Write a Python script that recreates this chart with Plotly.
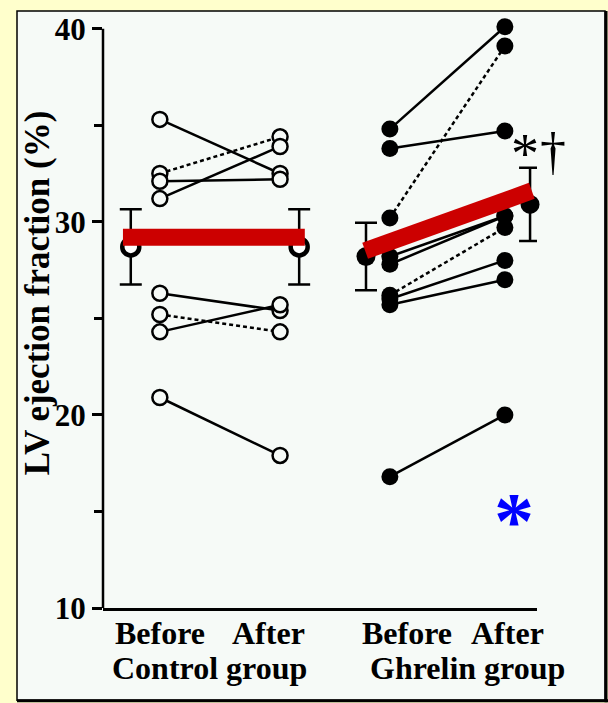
import plotly.graph_objects as go

# ---------------- data ----------------
groups = ["Control group", "Ghrelin group"]
phase_labels = ["Before", "After"]

control_before = [35.3, 32.5, 32.1, 31.2, 26.3, 25.2, 24.3, 20.9]
control_after = [32.5, 34.4, 32.2, 33.9, 25.4, 24.3, 25.7, 17.9]
control_dashed = [False, True, False, False, False, True, False, False]

ghrelin_before = [34.8, 33.8, 30.2, 28.2, 27.8, 26.2, 26.0, 25.7, 16.8]
ghrelin_after = [40.1, 34.7, 39.1, 30.3, 30.3, 29.7, 28.0, 27.0, 20.0]
ghrelin_dashed = [False, False, True, False, False, True, False, False, False]

control_mean = [28.7, 28.7]
control_sd = [1.95, 1.95]
ghrelin_mean = [28.2, 30.9]
ghrelin_sd = [1.75, 1.9]

control_trend = [29.2, 29.2]
ghrelin_trend = [28.5, 31.6]

y_ticks = [10, 20, 30, 40]
y_min, y_max, y_top = 10, 40, 40.5

# ---------------- layout constants ----------------
W, H = 608, 703
L, R, T, B = 103, 71, 15, 95
PW, PH = W - L - R, H - T - B

# x positions (axis runs 0..100)
X_CB, X_CA = 13.1, 40.8
X_GB, X_GA = 66.1, 92.6
X_CMB, X_CMA = 6.4, 45.2
X_GMB, X_GMA = 60.6, 98.4
X_CTR = [4.6, 46.5]
X_GTR = [60.4, 98.8]

PANEL = "#F6FAF7"
YELLOW = "#FFFFCC"
FONT = "Liberation Serif"


def px(xp):
    return (xp - L) / PW


def py(yp):
    return (H - B - yp) / PH


def segments(xb, xa, before, after, dashed, want_dashed):
    xs, ys = [], []
    for b, a, d in zip(before, after, dashed):
        if d == want_dashed:
            xs += [xb, xa, None]
            ys += [b, a, None]
    return xs, ys


fig = go.Figure()

# connecting lines
for (xb, xa, bef, aft, dsh) in [
    (X_CB, X_CA, control_before, control_after, control_dashed),
    (X_GB, X_GA, ghrelin_before, ghrelin_after, ghrelin_dashed),
]:
    xs, ys = segments(xb, xa, bef, aft, dsh, False)
    fig.add_trace(go.Scatter(x=xs, y=ys, mode="lines",
                             line=dict(color="black", width=2.5),
                             hoverinfo="skip", showlegend=False))
    xs, ys = segments(xb, xa, bef, aft, dsh, True)
    fig.add_trace(go.Scatter(x=xs, y=ys, mode="lines",
                             line=dict(color="black", width=2.5, dash="4px,3px"),
                             hoverinfo="skip", showlegend=False))

# individual points
fig.add_trace(go.Scatter(
    x=[X_CB] * len(control_before) + [X_CA] * len(control_after),
    y=control_before + control_after, mode="markers",
    marker=dict(symbol="circle", size=15, color=PANEL,
                line=dict(color="black", width=2.5)),
    showlegend=False))
fig.add_trace(go.Scatter(
    x=[X_GB] * len(ghrelin_before) + [X_GA] * len(ghrelin_after),
    y=ghrelin_before + ghrelin_after, mode="markers",
    marker=dict(symbol="circle", size=17, color="black",
                line=dict(color="black", width=0)),
    showlegend=False))

# means with error bars
fig.add_trace(go.Scatter(
    x=[X_CMB, X_CMA], y=control_mean, mode="markers",
    error_y=dict(type="data", array=control_sd, visible=True,
                 color="black", thickness=2.5, width=11),
    marker=dict(symbol="circle", size=17, color="white",
                line=dict(color="black", width=4.5)),
    showlegend=False))
fig.add_trace(go.Scatter(
    x=[X_GMB, X_GMA], y=ghrelin_mean, mode="markers",
    error_y=dict(type="data", array=ghrelin_sd, visible=True,
                 color="black", thickness=2.5, width=11),
    marker=dict(symbol="circle", size=19, color="black"),
    showlegend=False))

# red trend bars
fig.add_trace(go.Scatter(x=X_CTR, y=control_trend, mode="lines",
                         line=dict(color="#CC0000", width=17),
                         showlegend=False))
fig.add_trace(go.Scatter(x=X_GTR, y=ghrelin_trend, mode="lines",
                         line=dict(color="#CC0000", width=17),
                         showlegend=False))

# ---------------- annotations ----------------
ann = []
tick_font = dict(family=FONT, size=32, color="black", weight="bold")
for xc, txt in [(160, phase_labels[0]), (268, phase_labels[1]),
                (407, phase_labels[0]), (507, phase_labels[1])]:
    ann.append(dict(x=px(xc), y=py(633), xref="paper", yref="paper", text=txt,
                    showarrow=False, font=tick_font, xanchor="center", yanchor="middle",
                    borderpad=0))
for xc, txt in [(209, groups[0]), (467, groups[1])]:
    ann.append(dict(x=px(xc), y=py(668), xref="paper", yref="paper", text=txt,
                    showarrow=False, font=tick_font, xanchor="center", yanchor="middle",
                    borderpad=0))
# y title
ann.append(dict(x=px(37), y=py(291), xref="paper", yref="paper",
                text="LV ejection fraction (%)", textangle=-90, showarrow=False,
                font=dict(family=FONT, size=35, color="black", weight="bold"),
                xanchor="center", yanchor="middle"))
# significance markers
ann.append(dict(x=px(525), y=py(151), xref="paper", yref="paper", text="*",
                showarrow=False, font=dict(family=FONT, size=56, color="black"),
                xanchor="center", yanchor="middle"))
ann.append(dict(x=px(553), y=py(148), xref="paper", yref="paper", text="†",
                showarrow=False, font=dict(family=FONT, size=52, color="black"),
                xanchor="center", yanchor="middle"))
# blue asterisk
ann.append(dict(x=px(514), y=py(520), xref="paper", yref="paper", text="*",
                showarrow=False, font=dict(family=FONT, size=80, color="#0000FF", weight="bold"),
                xanchor="center", yanchor="middle"))

# ---------------- frame shapes ----------------
shapes = [
    dict(type="rect", xref="paper", yref="paper", layer="below",
         x0=px(17), x1=px(605), y0=py(701), y1=py(7),
         fillcolor=PANEL, line=dict(color="black", width=1.5)),
    dict(type="line", xref="paper", yref="paper", layer="below",
         x0=px(606), x1=px(606), y0=py(703), y1=py(7),
         line=dict(color="black", width=3)),
    dict(type="line", xref="paper", yref="paper", layer="below",
         x0=px(17), x1=px(608), y0=py(701.5), y1=py(701.5),
         line=dict(color="black", width=3)),
    # y axis line from 10 to 40
    dict(type="line", xref="paper", yref="y", layer="above",
         x0=0, x1=0, y0=y_min, y1=y_max,
         line=dict(color="black", width=2.5)),
]

fig.update_layout(
    width=W, height=H,
    margin=dict(l=L, r=R, t=T, b=B),
    paper_bgcolor=YELLOW, plot_bgcolor="rgba(0,0,0,0)",
    annotations=ann, shapes=shapes,
    font=dict(family=FONT, color="black"),
    xaxis=dict(range=[0, 100], showline=True, linecolor="black", linewidth=2.5,
               showticklabels=False, ticks="", showgrid=False, zeroline=False,
               fixedrange=True),
    yaxis=dict(range=[y_min, y_top], showline=False,
               tickvals=y_ticks, ticktext=[str(v) for v in y_ticks],
               ticks="outside", ticklen=10, tickwidth=2.5, tickcolor="black",
               minor=dict(dtick=5, tick0=10, ticks="outside", ticklen=8,
                          tickwidth=2.5, tickcolor="black", showgrid=False),
               tickfont=dict(family=FONT, size=31, color="black", weight="bold"),
               showgrid=False, zeroline=False, fixedrange=True),
)

for tr in fig.data:
    tr.cliponaxis = False

fig.write_html("out.html")
